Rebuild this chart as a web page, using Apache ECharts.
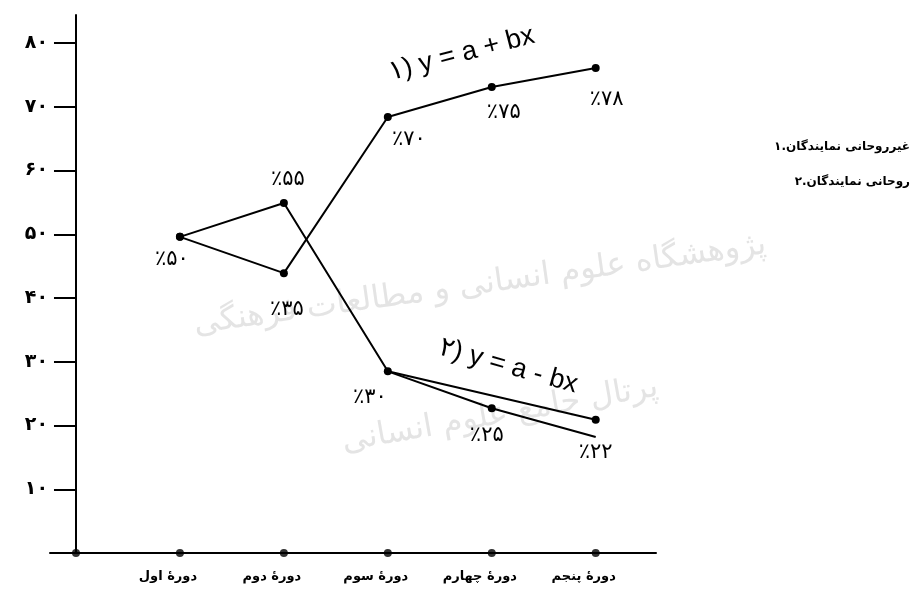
<!DOCTYPE html>
<html>
<head>
<meta charset="utf-8">
<script src="https://cdn.jsdelivr.net/npm/echarts@6/dist/echarts.min.js"></script>
<style>
  html, body { margin: 0; padding: 0; background: #fff; }
  #chart { width: 923px; height: 605px; }
</style>
</head>
<body>
<div id="chart"></div>
<script>
// parliament periods, x = 1..5 (x = 0 is the origin)
const periods = ['دورهٔ اول', 'دورهٔ دوم', 'دورهٔ سوم', 'دورهٔ چهارم', 'دورهٔ پنجم'];
const yTickValues = [10, 20, 30, 40, 50, 60, 70, 80];
const yTickLabels = ['۱۰', '۲۰', '۳۰', '۴۰', '۵۰', '۶۰', '۷۰', '۸۰'];

// 1. non-clergy representatives (as plotted in the book)
const nonClergy = [49.6, 43.9, 68.4, 73.1, 76.1];
const nonClergyLabels = ['٪۵۰', '٪۳۵', '٪۷۰', '٪۷۵', '٪۷۸'];

// 2. clergy representatives (as plotted)
const clergy = [49.6, 54.9, 28.5, 22.7, 20.9];
const clergyLabels = ['', '٪۵۵', '٪۳۰', '٪۲۵', '٪۲۲'];
// where the second fitted line ends, period 5
const clergyFitEnd = 18.2;

const fitTexts = ['۱) y = a + bx', '۲) y = a - bx'];
// legend, printed with its words running left to right
const legendWords = [
  ['۱.', 'نمایندگان', 'غیرروحانی'],
  ['۲.', 'نمایندگان', 'روحانی']
];
const watermarkTexts = ['پژوهشگاه علوم انسانی و مطالعات فرهنگی', 'پرتال جامع علوم انسانی'];

const FONT = '"DejaVu Sans", "Liberation Sans", sans-serif';

const chart = echarts.init(document.getElementById('chart'));

// label offsets from each point, as in the book
const offA = [[-8, 23], [3, 36], [21, 23], [12, 26], [11, 32]];
const offB = [null, [4, -23], [-18, 26], [-5, 27], [0, 33]];

const lbl = (text, off) => ({
  show: !!text,
  formatter: text,
  position: 'inside',
  offset: off || [0, 0],
  fontFamily: FONT,
  fontSize: 21,
  color: '#000'
});

const lineStyle = { color: '#000', width: 2 };
const itemStyle = { color: '#000' };

// series 1: all five points
const dataA = nonClergy.map((v, i) => ({ value: [i + 1, v], label: lbl(nonClergyLabels[i], offA[i]) }));

// series 2: the book draws period 3 straight to period 5,
// and period 4 sits on the fitted line y = a - bx
const dataB = [0, 1, 2, 4].map(i => ({ value: [i + 1, clergy[i]], label: lbl(clergyLabels[i], offB[i]) }));
const dataFit = [
  { value: [3, clergy[2]], symbol: 'none' },
  { value: [4, clergy[3]], label: lbl(clergyLabels[3], offB[3]) },
  { value: [5, clergyFitEnd], symbol: 'none' }
];

const axisDots = [0, 1, 2, 3, 4, 5].map(i => [i, 0]);

chart.setOption({
  animation: false,
  backgroundColor: '#fff',
  grid: { left: 50, right: 267, top: 15, bottom: 52, containLabel: false, outerBoundsMode: 'none' },
  xAxis: {
    type: 'value',
    min: -0.25,
    max: 5.58,
    axisLine: { show: true, onZero: true, lineStyle: { color: '#000', width: 2 } },
    axisTick: { show: false },
    splitLine: { show: false },
    axisLabel: {
      customValues: [1, 2, 3, 4, 5],
      formatter: v => periods[Math.round(v) - 1] || '',
      margin: 17,
      padding: [0, 24, 0, 0],
      fontFamily: FONT,
      fontSize: 13,
      fontWeight: 'bold',
      color: '#000'
    }
  },
  yAxis: {
    type: 'value',
    min: 0,
    max: 84.4,
    axisLine: { show: true, onZero: true, lineStyle: { color: '#000', width: 2 } },
    axisTick: { show: true, length: 22, customValues: yTickValues, lineStyle: { color: '#000', width: 2 } },
    splitLine: { show: false },
    axisLabel: {
      customValues: yTickValues,
      formatter: v => yTickLabels[yTickValues.indexOf(Math.round(v))] || '',
      margin: 2,
      fontFamily: FONT,
      fontSize: 19,
      fontWeight: 'bold',
      color: '#000'
    }
  },
  series: [
    {
      name: 'غیرروحانی',
      type: 'line',
      data: dataA,
      symbol: 'circle',
      symbolSize: 8,
      lineStyle,
      itemStyle,
      z: 3
    },
    {
      name: 'روحانی',
      type: 'line',
      data: dataB,
      symbol: 'circle',
      symbolSize: 8,
      lineStyle,
      itemStyle,
      z: 3
    },
    {
      name: 'y = a - bx',
      type: 'line',
      data: dataFit,
      symbol: 'circle',
      symbolSize: 8,
      lineStyle,
      itemStyle,
      z: 3
    },
    {
      type: 'scatter',
      data: axisDots,
      symbolSize: 8,
      itemStyle,
      clip: false,
      silent: true,
      z: 4
    }
  ]
});

// equation captions along the two lines, legend on the right, faint watermark
const p1 = chart.convertToPixel({ gridIndex: 0 }, [3.71, 78.3]);
const p2 = chart.convertToPixel({ gridIndex: 0 }, [4.16, 29.3]);
const deg = Math.PI / 180;

// legend words are drawn one by one from the right edge, so they keep the printed order
const LEGEND_FONT = 'bold 12px ' + FONT;
const measure = document.createElement('canvas').getContext('2d');
measure.font = LEGEND_FONT;
const gap = measure.measureText(' ').width;
const legendItems = [];
legendWords.forEach((words, row) => {
  let right = 910;
  for (let i = words.length - 1; i >= 0; i--) {
    legendItems.push({
      type: 'text', x: right, y: 147 + row * 35, z: 10,
      style: { text: words[i], font: LEGEND_FONT, fill: '#000', textAlign: 'right', textVerticalAlign: 'middle' }
    });
    right -= measure.measureText(words[i]).width + (i > 1 ? gap : 0);
  }
});

chart.setOption({
  graphic: [
    {
      type: 'text', x: 480, y: 285, rotation: 8 * deg, z: -10, silent: true,
      style: { text: watermarkTexts[0], font: '32px ' + FONT, fill: '#e4e4e4', textAlign: 'center', textVerticalAlign: 'middle' }
    },
    {
      type: 'text', x: 500, y: 415, rotation: 10 * deg, z: -10, silent: true,
      style: { text: watermarkTexts[1], font: '32px ' + FONT, fill: '#e4e4e4', textAlign: 'center', textVerticalAlign: 'middle' }
    },
    {
      type: 'text', x: p1[0], y: p1[1], rotation: 14.6 * deg, z: 10,
      style: { text: fitTexts[0], font: '27px "Liberation Sans", "DejaVu Sans", sans-serif', fill: '#000', textAlign: 'center', textVerticalAlign: 'middle' }
    },
    {
      type: 'text', x: p2[0], y: p2[1], rotation: -15.7 * deg, z: 10,
      style: { text: fitTexts[1], font: '27px "Liberation Sans", "DejaVu Sans", sans-serif', fill: '#000', textAlign: 'center', textVerticalAlign: 'middle' }
    }
  ].concat(legendItems)
});
</script>
</body>
</html>
